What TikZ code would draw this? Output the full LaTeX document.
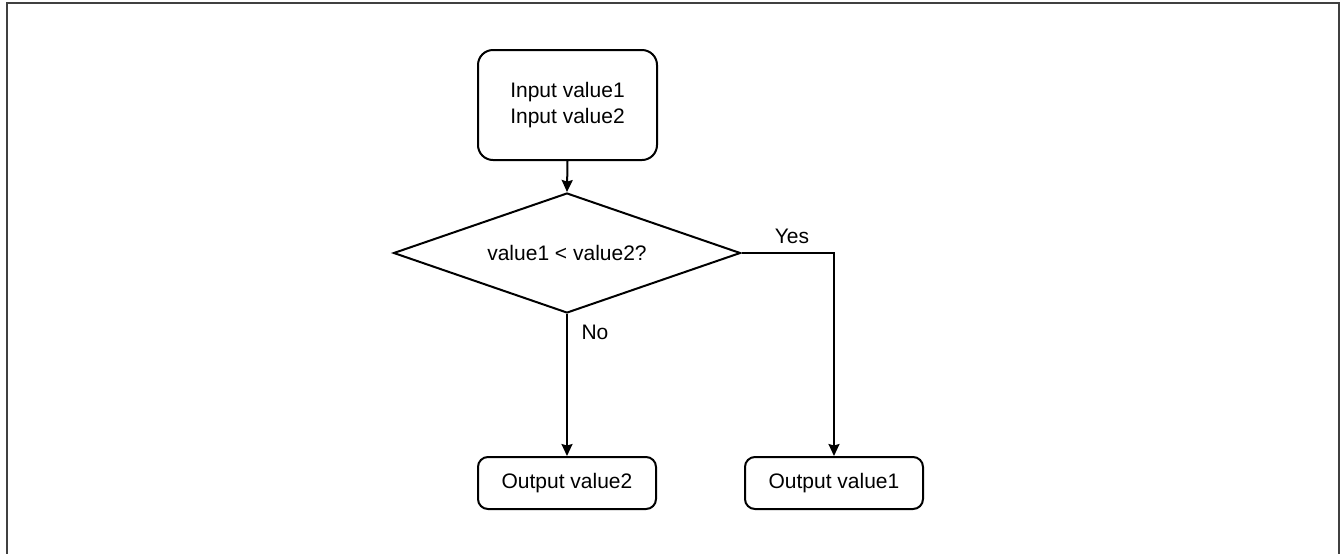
\documentclass[tikz,border=0pt]{standalone}
\usepackage{fontspec}
\setmainfont{Liberation Sans}
\usetikzlibrary{shapes.geometric,arrows.meta}
\begin{document}
\begin{tikzpicture}[x=0.5pt,y=-0.5pt,
  font=\fontsize{10.5pt}{12.6pt}\selectfont,
  flow/.style={draw=black,line width=1pt,rounded corners=5pt,inner sep=0pt,align=center},
  decision/.style={draw=black,line width=1pt,diamond,shape aspect=2.89,inner sep=0pt,minimum width=173.5pt,minimum height=60pt},
  conn/.style={draw=black,line width=1pt,-{Stealth[length=6pt,width=5.5pt,inset=0.8pt]}},
  lbl/.style={inner sep=0pt}]
\useasboundingbox (0,0) rectangle (1341,553);
\draw[line width=1pt,draw=black!75] (6.5,600) -- (6.5,3) -- (1338.5,3) -- (1338.5,600);
\node[flow,rounded corners=7.5pt,minimum width=89.5pt,minimum height=55pt] (in) at (567.5,105) {Input value1\\Input value2};
\node[decision] (dec) at (567,253) {value1 < value2?};
\node[flow,minimum width=89pt,minimum height=26pt] (out2) at (567,483) {Output value2};
\node[flow,minimum width=89pt,minimum height=26pt] (out1) at (834,483) {Output value1};
\coordinate (yc) at (834,253);
\draw[conn] (in.south) -- (dec.north);
\draw[conn] (dec.south) -- (out2.north);
\draw[conn] (dec.east) -- (yc) -- (out1.north);
\node[lbl] (yes) at (792,236) {Yes};
\node[lbl] (no) at (595,332) {No};
\end{tikzpicture}
\end{document}
